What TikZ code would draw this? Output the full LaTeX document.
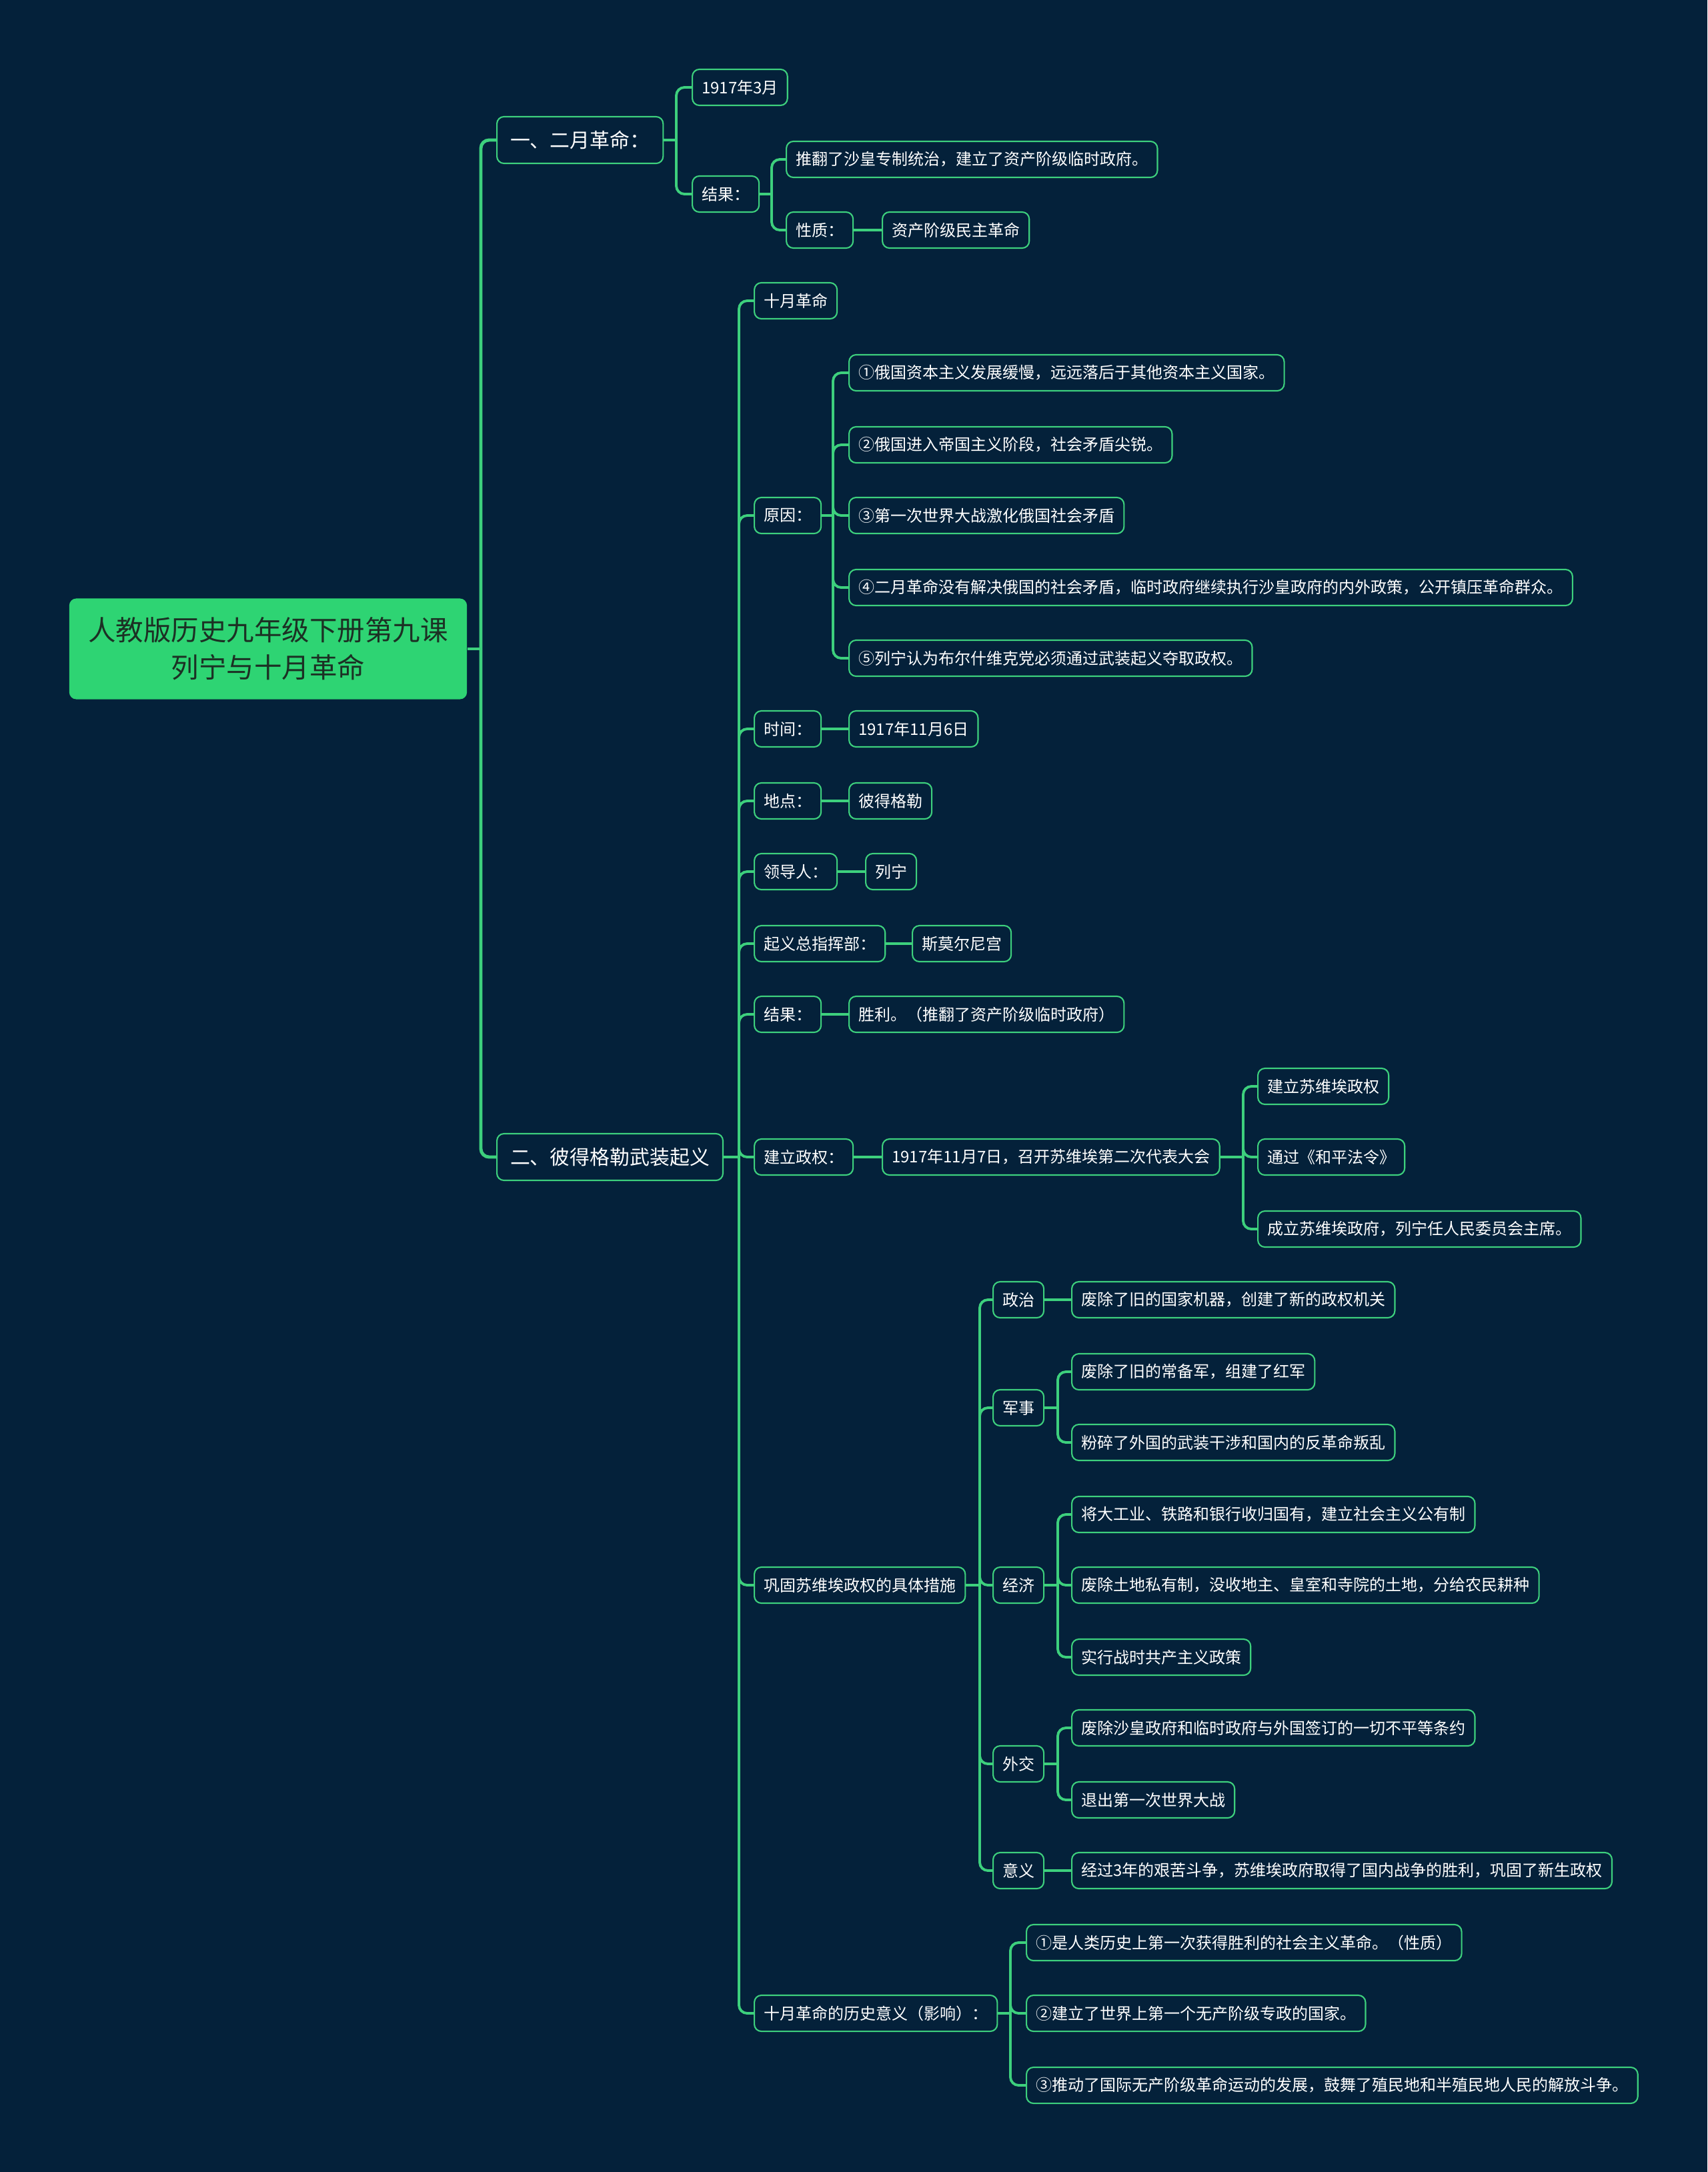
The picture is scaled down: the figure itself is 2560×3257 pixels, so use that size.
\documentclass[tikz,border=0pt]{standalone}
\usepackage{fontspec}
\setmainfont{Noto Sans CJK SC}
\usepackage{tikz}
\definecolor{bgnavy}{RGB}{4,33,58}
\definecolor{linkgreen}{RGB}{61,208,125}
\definecolor{rootgreen}{RGB}{46,212,115}
\definecolor{roottext}{RGB}{28,48,36}

\begin{document}
\begin{tikzpicture}[x=0.01cm,y=-0.01cm,
	rootbox/.style={rectangle,rounded corners=3pt,fill=rootgreen,text=roottext,align=center,
		minimum width=5.96cm,minimum height=1.51cm,font=\fontsize{11.8pt}{15.9pt}\selectfont},
	lvone/.style={rectangle,rounded corners=3pt,draw=linkgreen,line width=0.6pt,fill=bgnavy,text=white,
		anchor=west,minimum height=0.7cm,inner xsep=0.2cm,font=\fontsize{8.5pt}{10pt}\selectfont},
	leaf/.style={rectangle,rounded corners=3pt,draw=linkgreen,line width=0.6pt,fill=bgnavy,text=white,
		anchor=west,minimum height=0.54cm,inner xsep=0.14cm,font=\fontsize{6.83pt}{8pt}\selectfont},
	link/.style={draw=linkgreen,line width=1.1pt},
	elbow/.style={link,rounded corners=3.5pt},
	trunk/.style={elbow,line width=1.4pt}]
	\useasboundingbox[fill=bgnavy] (0,0) rectangle (2560,3257);

	\node[rootbox] (root) at (402,973) {人教版历史九年级下册第九课\\列宁与十月革命};

	\node[lvone] (feb) at (744,210) {一、二月革命：};
	\node[lvone] (oct) at (744,1735) {二、彼得格勒武装起义};

	\node[leaf] (f_date) at (1037,131) {1917年3月};
	\node[leaf] (f_res) at (1037,291) {结果：};
	\node[leaf] (f_over) at (1178,239) {推翻了沙皇专制统治，建立了资产阶级临时政府。};
	\node[leaf] (f_nat) at (1178,345) {性质：};
	\node[leaf] (f_natv) at (1322,345) {资产阶级民主革命};

	\node[leaf] (o_name) at (1130,451) {十月革命};
	\node[leaf] (o_cause) at (1130,773) {原因：};
	\node[leaf] (c_1) at (1272,559) {①俄国资本主义发展缓慢，远远落后于其他资本主义国家。};
	\node[leaf] (c_2) at (1272,667) {②俄国进入帝国主义阶段，社会矛盾尖锐。};
	\node[leaf] (c_3) at (1272,773) {③第一次世界大战激化俄国社会矛盾};
	\node[leaf] (c_4) at (1272,881) {④二月革命没有解决俄国的社会矛盾，临时政府继续执行沙皇政府的内外政策，公开镇压革命群众。};
	\node[leaf] (c_5) at (1272,987) {⑤列宁认为布尔什维克党必须通过武装起义夺取政权。};
	\node[leaf] (o_time) at (1130,1093) {时间：};
	\node[leaf] (t_v) at (1272,1093) {1917年11月6日};
	\node[leaf] (o_place) at (1130,1201) {地点：};
	\node[leaf] (p_v) at (1272,1201) {彼得格勒};
	\node[leaf] (o_lead) at (1130,1307) {领导人：};
	\node[leaf] (l_v) at (1297,1307) {列宁};
	\node[leaf] (o_hq) at (1130,1415) {起义总指挥部：};
	\node[leaf] (h_v) at (1367,1415) {斯莫尔尼宫};
	\node[leaf] (o_res) at (1130,1521) {结果：};
	\node[leaf] (r_v) at (1272,1521) {胜利。（推翻了资产阶级临时政府）};
	\node[leaf] (o_gov) at (1130,1735) {建立政权：};
	\node[leaf] (g_v) at (1322,1735) {1917年11月7日，召开苏维埃第二次代表大会};
	\node[leaf] (g_1) at (1885,1629) {建立苏维埃政权};
	\node[leaf] (g_2) at (1885,1735) {通过《和平法令》};
	\node[leaf] (g_3) at (1885,1843) {成立苏维埃政府，列宁任人民委员会主席。};

	\node[leaf] (o_cons) at (1130,2377) {巩固苏维埃政权的具体措施};
	\node[leaf] (m_pol) at (1488,1949) {政治};
	\node[leaf] (pol_1) at (1606,1949) {废除了旧的国家机器，创建了新的政权机关};
	\node[leaf] (m_mil) at (1488,2111) {军事};
	\node[leaf] (mil_1) at (1606,2057) {废除了旧的常备军，组建了红军};
	\node[leaf] (mil_2) at (1606,2163) {粉碎了外国的武装干涉和国内的反革命叛乱};
	\node[leaf] (m_eco) at (1488,2377) {经济};
	\node[leaf] (eco_1) at (1606,2271) {将大工业、铁路和银行收归国有，建立社会主义公有制};
	\node[leaf] (eco_2) at (1606,2377) {废除土地私有制，没收地主、皇室和寺院的土地，分给农民耕种};
	\node[leaf] (eco_3) at (1606,2485) {实行战时共产主义政策};
	\node[leaf] (m_dip) at (1488,2645) {外交};
	\node[leaf] (dip_1) at (1606,2591) {废除沙皇政府和临时政府与外国签订的一切不平等条约};
	\node[leaf] (dip_2) at (1606,2699) {退出第一次世界大战};
	\node[leaf] (m_mean) at (1488,2805) {意义};
	\node[leaf] (mean_1) at (1606,2805) {经过3年的艰苦斗争，苏维埃政府取得了国内战争的胜利，巩固了新生政权};

	\node[leaf] (o_sig) at (1130,3019) {十月革命的历史意义（影响）：};
	\node[leaf] (s_1) at (1538,2913) {①是人类历史上第一次获得胜利的社会主义革命。（性质）};
	\node[leaf] (s_2) at (1538,3019) {②建立了世界上第一个无产阶级专政的国家。};
	\node[leaf] (s_3) at (1538,3127) {③推动了国际无产阶级革命运动的发展，鼓舞了殖民地和半殖民地人民的解放斗争。};

	\coordinate (j_root) at (721,973);
	\coordinate (j_feb) at (1014,210);
	\coordinate (j_fres) at (1157,291);
	\coordinate (j_oct) at (1108,1735);
	\coordinate (j_cause) at (1249,773);
	\coordinate (j_gov) at (1864,1735);
	\coordinate (j_cons) at (1469,2377);
	\coordinate (j_mil) at (1586,2111);
	\coordinate (j_eco) at (1586,2377);
	\coordinate (j_dip) at (1586,2645);
	\coordinate (j_sig) at (1515,3019);

	\draw[trunk] (root.east) -- (j_root);
	\foreach \c in {feb,oct}
		\draw[trunk] (j_root) |- (\c.west);

	\draw[link] (feb.east) -- (j_feb);
	\foreach \c in {f_date,f_res}
		\draw[elbow] (j_feb) |- (\c.west);
	\draw[link] (f_res.east) -- (j_fres);
	\foreach \c in {f_over,f_nat}
		\draw[elbow] (j_fres) |- (\c.west);
	\draw[link] (f_nat.east) -- (f_natv.west);

	\draw[link] (oct.east) -- (j_oct);
	\foreach \c in {o_name,o_cause,o_time,o_place,o_lead,o_hq,o_res,o_gov,o_cons,o_sig}
		\draw[elbow] (j_oct) |- (\c.west);

	\draw[link] (o_cause.east) -- (j_cause);
	\foreach \c in {c_1,c_2,c_3,c_4,c_5}
		\draw[elbow] (j_cause) |- (\c.west);
	\draw[link] (o_time.east) -- (t_v.west);
	\draw[link] (o_place.east) -- (p_v.west);
	\draw[link] (o_lead.east) -- (l_v.west);
	\draw[link] (o_hq.east) -- (h_v.west);
	\draw[link] (o_res.east) -- (r_v.west);
	\draw[link] (o_gov.east) -- (g_v.west);
	\draw[link] (g_v.east) -- (j_gov);
	\foreach \c in {g_1,g_2,g_3}
		\draw[elbow] (j_gov) |- (\c.west);

	\draw[link] (o_cons.east) -- (j_cons);
	\foreach \c in {m_pol,m_mil,m_eco,m_dip,m_mean}
		\draw[elbow] (j_cons) |- (\c.west);
	\draw[link] (m_pol.east) -- (pol_1.west);
	\draw[link] (m_mil.east) -- (j_mil);
	\foreach \c in {mil_1,mil_2}
		\draw[elbow] (j_mil) |- (\c.west);
	\draw[link] (m_eco.east) -- (j_eco);
	\foreach \c in {eco_1,eco_2,eco_3}
		\draw[elbow] (j_eco) |- (\c.west);
	\draw[link] (m_dip.east) -- (j_dip);
	\foreach \c in {dip_1,dip_2}
		\draw[elbow] (j_dip) |- (\c.west);
	\draw[link] (m_mean.east) -- (mean_1.west);

	\draw[link] (o_sig.east) -- (j_sig);
	\foreach \c in {s_1,s_2,s_3}
		\draw[elbow] (j_sig) |- (\c.west);
\end{tikzpicture}
\end{document}
